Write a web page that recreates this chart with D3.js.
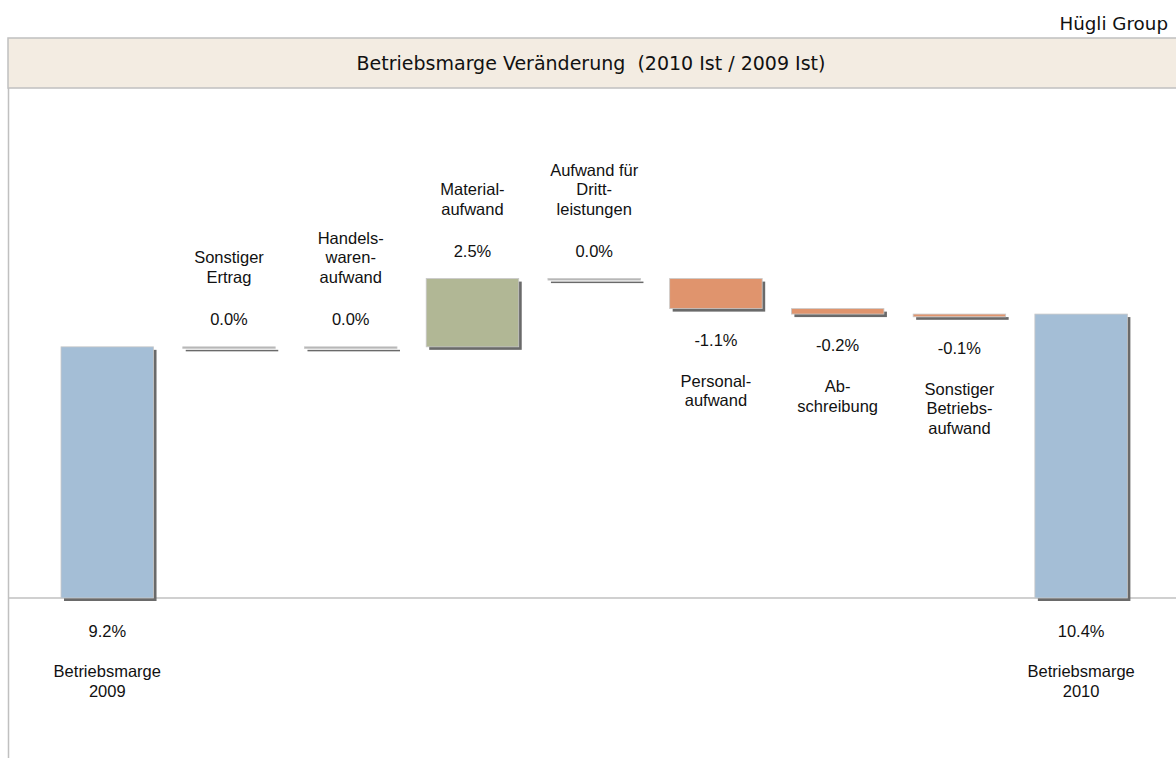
<!DOCTYPE html>
<html><head><meta charset="utf-8">
<script src="https://cdn.jsdelivr.net/npm/d3@7"></script>
<style>body{margin:0;background:#fff}svg{display:block}text{white-space:pre}</style>
</head><body><svg id="c" width="1176" height="758"></svg>
<script>
const categories = [
  ["Betriebsmarge","2009"],
  ["Sonstiger","Ertrag"],
  ["Handels-","waren-","aufwand"],
  ["Material-","aufwand"],
  ["Aufwand für","Dritt-","leistungen"],
  ["Personal-","aufwand"],
  ["Ab-","schreibung"],
  ["Sonstiger","Betriebs-","aufwand"],
  ["Betriebsmarge","2010"]
];
const values = [9.2, 0.0, 0.0, 2.5, 0.0, -1.1, -0.2, -0.1, 10.4];
const kinds = ["total","delta","delta","delta","delta","delta","delta","delta","total"];
const title = "Betriebsmarge Veränderung  (2010 Ist / 2009 Ist)";
const company = "Hügli Group";

const W = 1176, H = 758;
const svg = d3.select("#c");
const labelFont = "'Liberation Sans', Arial, sans-serif";
const titleFont = "'DejaVu Sans', Tahoma, sans-serif";

const x = d3.scaleBand().domain(d3.range(values.length)).range([46.4, 1142]).paddingInner(0.24).paddingOuter(0.12);
const y = d3.scaleLinear().domain([0, 12]).range([598, 598 - 12 * 27.3]);

let cum = 0;
const bars = values.map((v, i) => {
  let y0, y1;
  if (kinds[i] === "total") { y0 = 0; y1 = v; cum = v; }
  else { y0 = cum; y1 = cum + v; cum = y1; }
  return {i, v, kind: kinds[i], lo: Math.min(y0, y1), hi: Math.max(y0, y1)};
});

// header
svg.append("text").attr("x", 1168).attr("y", 30).attr("text-anchor", "end")
  .attr("font-family", titleFont).attr("font-size", 18.3).attr("fill", "#111").text(company);
svg.append("rect").attr("x", 8).attr("y", 38).attr("width", W).attr("height", 50)
  .attr("fill", "#f3ece2").attr("stroke", "#c0c0c0").attr("stroke-width", 1.5);
svg.append("text").attr("x", 591).attr("y", 70).attr("text-anchor", "middle")
  .attr("font-family", titleFont).attr("font-size", 19).attr("fill", "#111").text(title);

svg.append("line").attr("x1", 8.5).attr("x2", 8.5).attr("y1", 88).attr("y2", H)
  .attr("stroke", "#c0c0c0").attr("stroke-width", 1.5);
svg.append("line").attr("x1", 8).attr("x2", W).attr("y1", y(0)).attr("y2", y(0))
  .attr("stroke", "#c0c0c0").attr("stroke-width", 1.5);

function color(d) {
  if (d.kind === "total") return "#a4bed6";
  if (d.v > 0) return "#b1b795";
  if (d.v < 0) return "#e0946d";
  return "#b0b0b0";
}

const g = svg.append("g");
bars.forEach(d => {
  const bx = x(d.i), bw = x.bandwidth();
  const top = y(d.hi);
  const h = Math.max(y(d.lo) - y(d.hi), 1.5);
  g.append("rect").attr("x", bx + 3).attr("y", top + 3).attr("width", bw).attr("height", h)
    .attr("fill", "#6a6a6a");
  g.append("rect").attr("x", bx).attr("y", top).attr("width", bw).attr("height", h)
    .attr("fill", color(d)).attr("stroke", "#c8c8c8").attr("stroke-width", 0.8);
});

const fs = 16.5, lh = 19.5;
const fmt = v => v.toFixed(1) + "%";
bars.forEach(d => {
  const cx = x(d.i) + x.bandwidth() / 2;
  const lines = categories[d.i];
  const valTxt = fmt(d.v);
  const t = svg.append("g").attr("font-family", labelFont).attr("font-size", fs).attr("fill", "#111").attr("text-anchor", "middle");
  if (d.kind === "total") {
    const vy = y(0) + 33;
    t.append("text").attr("x", cx).attr("y", vy + 6).text(valTxt);
    lines.forEach((l, k) => t.append("text").attr("x", cx).attr("y", vy + 46 + k * lh).text(l));
  } else if (d.v >= 0) {
    const vy = y(d.hi) - 28;
    t.append("text").attr("x", cx).attr("y", vy + 6).text(valTxt);
    const n = lines.length;
    lines.forEach((l, k) => t.append("text").attr("x", cx).attr("y", vy - 42 - (n - 1 - k) * lh + 6).text(l));
  } else {
    const vy = y(d.lo) + 31;
    t.append("text").attr("x", cx).attr("y", vy + 6).text(valTxt);
    lines.forEach((l, k) => t.append("text").attr("x", cx).attr("y", vy + 41 + k * lh + 6).text(l));
  }
});
</script></body></html>
